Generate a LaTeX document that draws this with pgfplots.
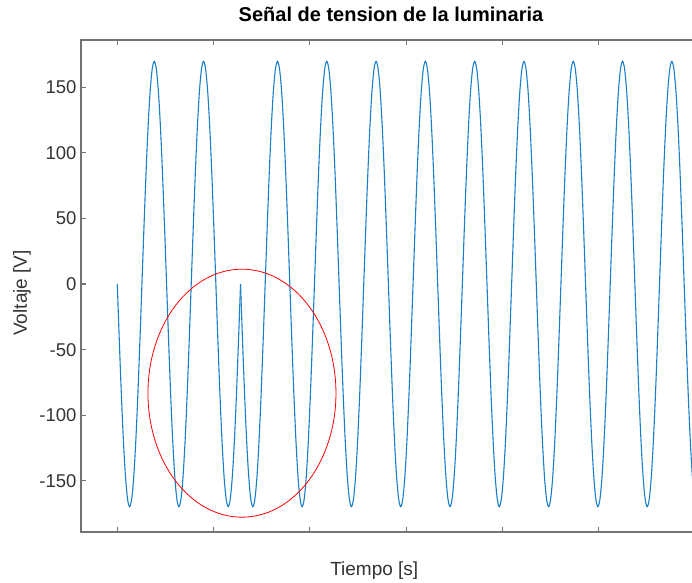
\documentclass[border=0pt]{standalone}
\usepackage{pgfplots}
\pgfplotsset{compat=1.18}
\usepackage{fontspec}
\setmainfont{Liberation Sans}
\definecolor{mblue}{rgb}{0.1,0.5,0.78}
\definecolor{axgray}{rgb}{0.45,0.45,0.45}
\definecolor{txt}{rgb}{0.2,0.2,0.2}
\begin{document}
\begin{tikzpicture}
\begin{axis}[
  at={(0pt,0pt)}, anchor=south west,
  scale only axis, width=620pt, height=492pt,
  xmin=-17.67, xmax=284.2, ymin=-189, ymax=186,
  xtick={0,46.9,93.8,140.7,187.6,234.5,281.4}, xticklabels={},
  ytick={-150,-100,-50,0,50,100,150},
  yticklabels={-150,-100,-50,0,50,100,150},
  tick align=inside, tick pos=both, major tick length=5pt,
  axis line style={axgray, line width=1.1pt},
  every tick/.style={axgray, line width=1.1pt},
  tick label style={font=\fontsize{18.5}{20}\selectfont, text=txt},
  yticklabel style={xshift=-1pt},
  title={Señal de tension de la luminaria},
  title style={font=\bfseries\fontsize{20}{24}\selectfont, text=black, at={(axis description cs:0.5,1.0244)}, anchor=base},
  xlabel={Tiempo [s]},
  xlabel style={font=\fontsize{19}{22}\selectfont, text=txt, at={(axis description cs:0.473,-0.0874)}, anchor=base},
  ylabel={Voltaje [V]},
  ylabel style={font=\fontsize{19}{22}\selectfont, text=txt, at={(axis description cs:-0.0871,0.486)}, anchor=base},
]
\addplot[mblue, line width=1.1pt, no marks, smooth, tension=0.5] table {
x y
0 0
1 -43.9
2 -84.9
3 -120
4 -147
5 -163.9
6 -169.7
7 -163.9
8 -147
9 -120
10 -84.9
11 -43.9
12 0
13 43.9
14 84.9
15 120
16 147
17 163.9
18 169.7
19 163.9
20 147
21 120
22 84.9
23 43.9
24 0
25 -43.9
26 -84.9
27 -120
28 -147
29 -163.9
30 -169.7
31 -163.9
32 -147
33 -120
34 -84.9
35 -43.9
36 0
37 43.9
38 84.9
39 120
40 147
41 163.9
42 169.7
43 163.9
44 147
45 120
46 84.9
47 43.9
48 0
49 -43.9
50 -84.9
51 -120
52 -147
53 -163.9
54 -169.7
55 -163.9
56 -147
57 -120
58 -84.9
59 -43.9
60 0
};
\addplot[mblue, line width=1.1pt, no marks, smooth, tension=0.5] table {
x y
60 0
61 -43.9
62 -84.9
63 -120
64 -147
65 -163.9
66 -169.7
67 -163.9
68 -147
69 -120
70 -84.9
71 -43.9
72 0
73 43.9
74 84.9
75 120
76 147
77 163.9
78 169.7
79 163.9
80 147
81 120
82 84.9
83 43.9
84 0
85 -43.9
86 -84.9
87 -120
88 -147
89 -163.9
90 -169.7
91 -163.9
92 -147
93 -120
94 -84.9
95 -43.9
96 0
97 43.9
98 84.9
99 120
100 147
101 163.9
102 169.7
103 163.9
104 147
105 120
106 84.9
107 43.9
108 0
109 -43.9
110 -84.9
111 -120
112 -147
113 -163.9
114 -169.7
115 -163.9
116 -147
117 -120
118 -84.9
119 -43.9
120 0
121 43.9
122 84.9
123 120
124 147
125 163.9
126 169.7
127 163.9
128 147
129 120
130 84.9
131 43.9
132 0
133 -43.9
134 -84.9
135 -120
136 -147
137 -163.9
138 -169.7
139 -163.9
140 -147
141 -120
142 -84.9
143 -43.9
144 0
145 43.9
146 84.9
147 120
148 147
149 163.9
150 169.7
151 163.9
152 147
153 120
154 84.9
155 43.9
156 0
157 -43.9
158 -84.9
159 -120
160 -147
161 -163.9
162 -169.7
163 -163.9
164 -147
165 -120
166 -84.9
167 -43.9
168 0
169 43.9
170 84.9
171 120
172 147
173 163.9
174 169.7
175 163.9
176 147
177 120
178 84.9
179 43.9
180 0
181 -43.9
182 -84.9
183 -120
184 -147
185 -163.9
186 -169.7
187 -163.9
188 -147
189 -120
190 -84.9
191 -43.9
192 0
193 43.9
194 84.9
195 120
196 147
197 163.9
198 169.7
199 163.9
200 147
201 120
202 84.9
203 43.9
204 0
205 -43.9
206 -84.9
207 -120
208 -147
209 -163.9
210 -169.7
211 -163.9
212 -147
213 -120
214 -84.9
215 -43.9
216 0
217 43.9
218 84.9
219 120
220 147
221 163.9
222 169.7
223 163.9
224 147
225 120
226 84.9
227 43.9
228 0
229 -43.9
230 -84.9
231 -120
232 -147
233 -163.9
234 -169.7
235 -163.9
236 -147
237 -120
238 -84.9
239 -43.9
240 0
241 43.9
242 84.9
243 120
244 147
245 163.9
246 169.7
247 163.9
248 147
249 120
250 84.9
251 43.9
252 0
253 -43.9
254 -84.9
255 -120
256 -147
257 -163.9
258 -169.7
259 -163.9
260 -147
261 -120
262 -84.9
263 -43.9
264 0
265 43.9
266 84.9
267 120
268 147
269 163.9
270 169.7
271 163.9
272 147
273 120
274 84.9
275 43.9
276 0
277 -43.9
278 -84.9
279 -120
280 -147
281 -163.9
282 -169.7
283 -163.9
284 -147
285 -120
};
\draw[red, line width=0.8pt] (axis cs:60.7,-83.2) ellipse [x radius=94pt, y radius=124pt];
\end{axis}
\pgfresetboundingbox
\path[use as bounding box] (-81pt,-50pt) rectangle (611pt,532pt);
\end{tikzpicture}
\end{document}
